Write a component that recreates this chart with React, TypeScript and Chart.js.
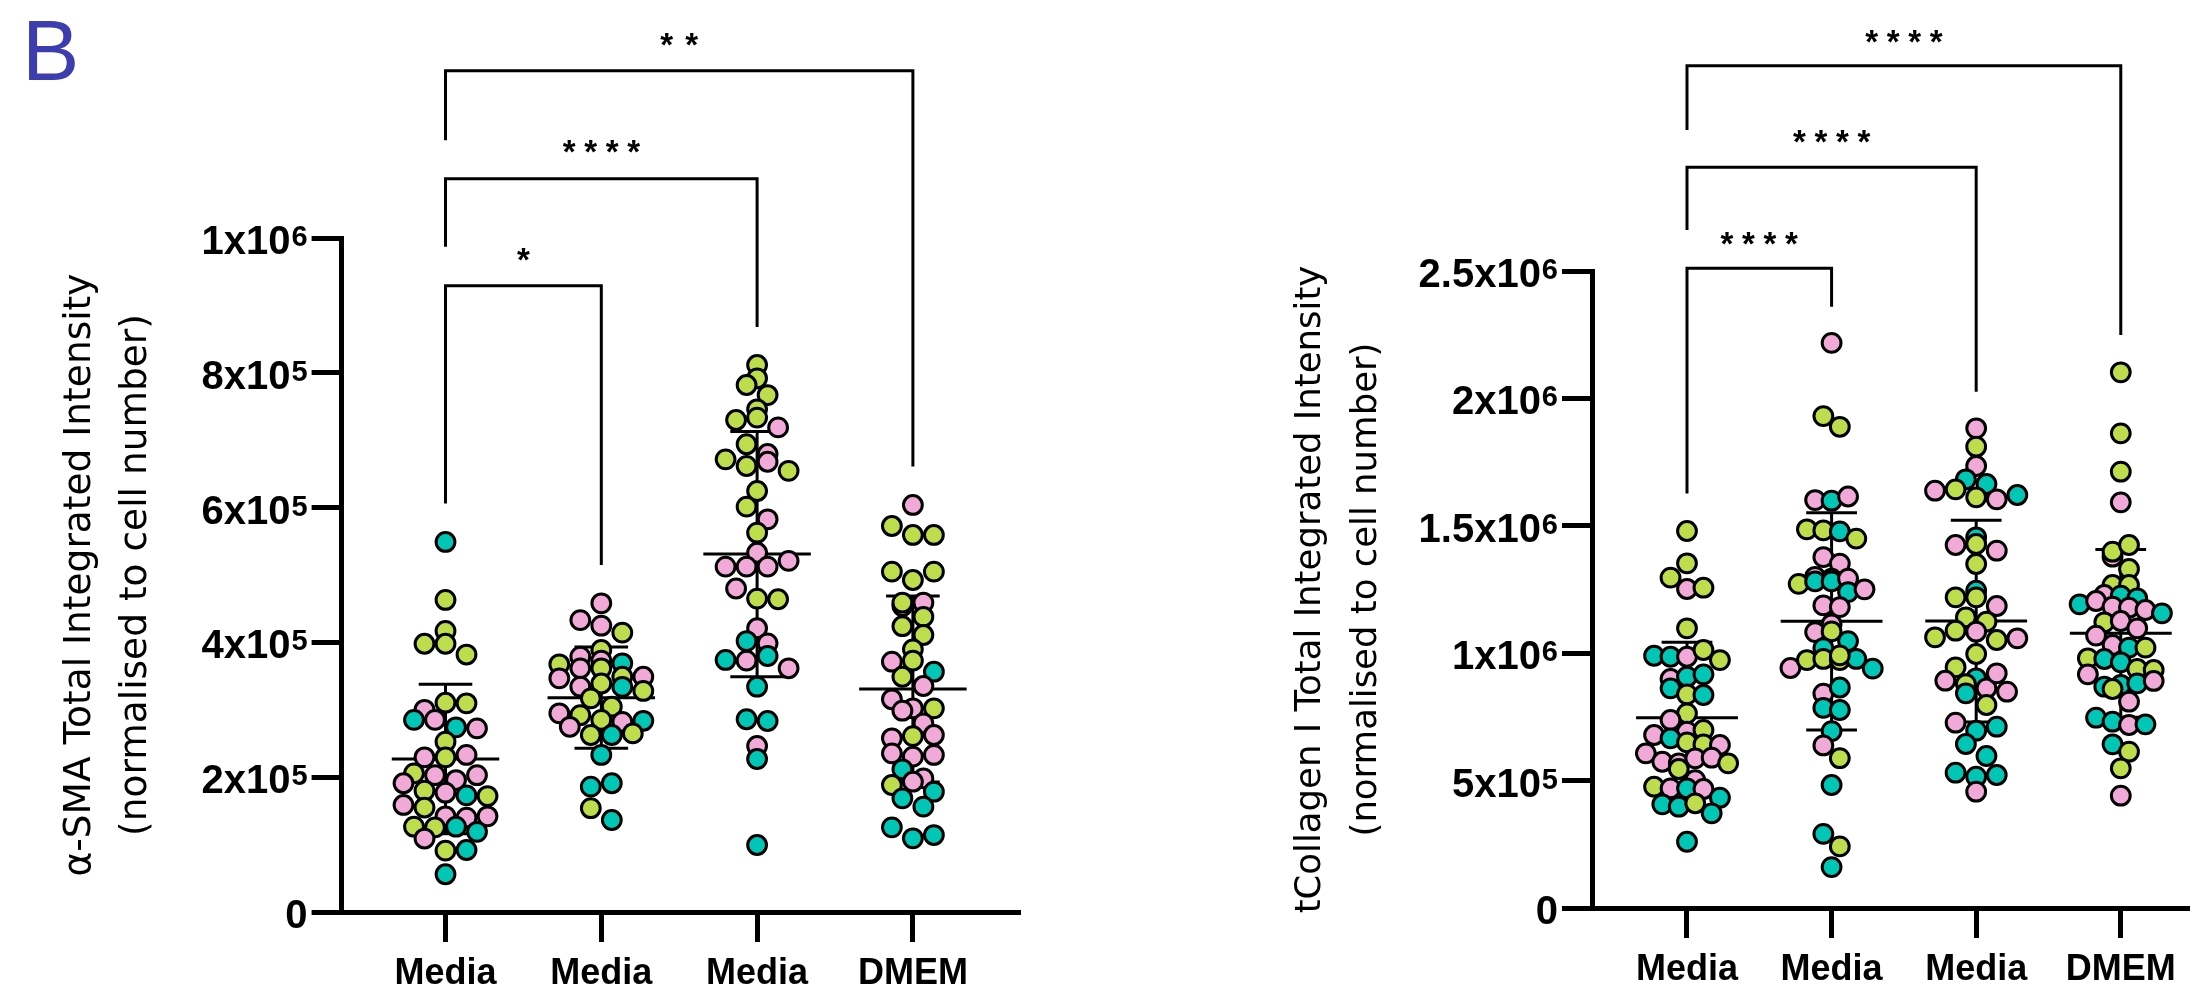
import { useEffect, useRef } from 'react';
import { Chart, registerables } from 'chart.js';

Chart.register(...registerables);

// ---------------- DATA (values in thousands) ----------------
const categories = ['Media', 'Media', 'Media', 'DMEM'];
const repColors: Record<string, string> = { g: '#BEDD4C', p: '#F1A9D8', t: '#00C6B5' };

// α-SMA panel
const smaMedia1 = [549, 463, 417, 398, 398, 382, 300, 310.5, 309.6, 285, 285, 274, 272.5, 252.7, 229.5, 229.5, 233, 205.7, 203, 195.8, 191, 203, 180, 177, 173, 172, 158.8, 155, 142, 140, 142, 126.6, 125.6, 126.6, 119, 109, 91, 92, 56];
const smaMedia1Rep = ['t', 'g', 'g', 'g', 'g', 'g', 'p', 'g', 'g', 't', 'p', 't', 'p', 'g', 'p', 'g', 'p', 'g', 'p', 'p', 'p', 'p', 'g', 'p', 't', 'g', 'p', 'g', 'p', 'p', 'p', 'g', 'g', 't', 't', 'p', 'g', 't', 't'];
const smaMedia2 = [458, 433, 424.8, 414.5, 388.7, 378.8, 372.9, 369, 367.5, 361.6, 361.6, 349, 346.7, 349, 334.3, 339, 334, 328, 317, 304.6, 294.8, 292, 285, 282, 283.7, 274.8, 262.6, 262.6, 265, 233, 186, 191, 154, 136.5];
const smaMedia2Rep = ['p', 'p', 'p', 'g', 'g', 'p', 'p', 't', 'g', 'p', 'g', 'g', 'p', 'p', 'p', 'g', 't', 'g', 'g', 'g', 'p', 'g', 'g', 'p', 't', 'p', 'g', 't', 'g', 't', 't', 't', 'g', 't'];
const smaMedia3 = [811.6, 791.8, 781.9, 767, 745.8, 730, 733.5, 719, 694, 679.5, 671.6, 661.7, 668, 654.6, 624.6, 601.4, 582.6, 562.8, 533, 512.4, 512.4, 512.4, 521, 480, 465, 464, 421, 402, 398.6, 374, 372.9, 379.8, 361.6, 334.3, 286, 283.4, 246.3, 227, 99.4];
const smaMedia3Rep = ['g', 'g', 'g', 'g', 'g', 'g', 'g', 'p', 'g', 'p', 'g', 'g', 'p', 'g', 'g', 'g', 'p', 'g', 'p', 'p', 'p', 'p', 'p', 'p', 'g', 'g', 'p', 't', 'p', 't', 'p', 't', 'p', 't', 't', 't', 'p', 't', 't'];
const smaDMEM = [603.9, 572.7, 559.4, 559.4, 505, 492.6, 505, 454, 459, 459, 438, 424, 411, 389.7, 371.4, 372.9, 356.5, 349, 335.3, 315.6, 302.2, 302.2, 298.7, 279.9, 257.7, 261, 262.6, 235.4, 230.5, 233, 211.7, 198.3, 188.4, 193.3, 178.5, 168.7, 156.3, 125.6, 109.3, 114.2];
const smaDMEMRep = ['p', 'g', 'g', 'g', 'g', 'g', 'g', 'p', 'g', 'p', 'g', 'g', 'g', 'g', 'p', 'g', 't', 'g', 'p', 'p', 'p', 'g', 'p', 'p', 'p', 'g', 'p', 'p', 'p', 'p', 't', 'p', 'g', 'p', 't', 't', 't', 't', 't', 't'];
const smaMean = [227, 318, 531, 331];
const smaSD = [111, 75, 182, 138];
const smaTickBase = ['0', '2x10', '4x10', '6x10', '8x10', '1x10'];
const smaTickExp = ['', '5', '5', '5', '5', '6'];
const smaTitle = ['α-SMA Total Integrated Intensity', '(normalised to cell number)'];
const smaSigFrom = [0, 0, 0];
const smaSigTo = [3, 2, 1];
const smaSigTop = [1248, 1088, 929];
const smaSigLeftEnd = [1145, 987, 606];
const smaSigRightEnd = [661, 868, 515];
const smaSigLabel = ['**', '****', '*'];
const smaSigLabelY = [1294, 1136, 975];

// tCollagen I panel
const colMedia1 = [1479.6, 1352.7, 1296.5, 1252, 1257, 1097.6, 990, 986, 986, 1012.5, 973, 898.7, 907.8, 917, 862, 838.6, 836, 764, 737.8, 692, 679, 698.6, 666, 650, 642, 639.7, 607, 574, 567.8, 587.5, 590, 545.5, 567.8, 502, 476, 469.6, 469.6, 467, 407, 397.6, 411, 433, 371.7, 260];
const colMedia1Rep = ['g', 'g', 'g', 'p', 'g', 'g', 't', 't', 'p', 'g', 'g', 'p', 't', 't', 't', 'g', 't', 'g', 'p', 'p', 'p', 'g', 't', 'g', 'g', 'p', 'p', 'p', 'p', 'p', 'p', 'g', 'g', 'p', 'g', 'p', 't', 'p', 't', 't', 'g', 't', 't', 't'];
const colMedia2 = [2217.8, 1930.5, 1888.6, 1601, 1598.5, 1615, 1486.3, 1482, 1478, 1449.8, 1377, 1351.6, 1299.8, 1292.8, 1272, 1281.8, 1281.8, 1292.8, 1239.8, 1250.8, 1187.6, 1180.9, 1113.4, 1082.8, 1085.6, 1047.5, 1019.6, 942, 973, 977.4, 973, 977.4, 939.5, 991.3, 841.4, 865.4, 785.3, 777, 694.2, 638, 588, 482.7, 290.8, 241.8, 160.5];
const colMedia2Rep = ['p', 'g', 'g', 'p', 't', 'p', 'g', 'g', 't', 'g', 'p', 'p', 'p', 'g', 'g', 't', 't', 'p', 't', 'p', 'p', 'p', 'p', 'p', 'g', 't', 't', 'p', 'g', 'g', 'g', 't', 't', 'g', 'p', 't', 't', 't', 't', 'p', 'g', 't', 't', 'g', 't'];
const colMedia3 = [1882.6, 1810.5, 1734.7, 1682.4, 1664, 1637.8, 1643, 1611.8, 1603.9, 1620.8, 1454.8, 1424.6, 1428.5, 1402.3, 1350, 1245.3, 1219.3, 1219.3, 1185.2, 1140.9, 1123.6, 1062.4, 1088.3, 1084.4, 1051.8, 1058.4, 996.8, 944.6, 901.5, 892, 879, 862.3, 921.1, 849, 842.6, 796.7, 727.3, 695.9, 711.6, 643.6, 596.5, 531, 515.3, 522, 456.4];
const colMedia3Rep = ['p', 'g', 'p', 't', 't', 'p', 'g', 'g', 'p', 't', 't', 'p', 'g', 'p', 'g', 't', 'g', 'g', 'p', 'g', 'g', 'g', 'g', 'p', 'g', 'p', 'g', 'g', 't', 'p', 'g', 'p', 'p', 'p', 't', 'g', 'p', 't', 't', 't', 't', 't', 't', 't', 'p'];
const colDMEM = [2102.4, 1862.9, 1712.3, 1592, 1378.8, 1398.4, 1424.6, 1330.4, 1267.6, 1267.6, 1228.4, 1191.8, 1225.7, 1204.9, 1215.4, 1182.5, 1178.6, 1169.5, 1156.5, 1121.2, 1126.4, 1097.6, 1069, 1032.2, 1021.8, 1021.8, 980, 977.3, 964.2, 938, 934, 917.2, 868.5, 875.2, 881.7, 859.5, 891, 809.7, 746.9, 731.2, 718.2, 720.7, 642.4, 613.4, 548.3, 440.7];
const colDMEMRep = ['g', 'g', 'g', 'p', 'p', 'g', 'g', 'g', 'g', 'g', 'p', 't', 't', 'p', 't', 'p', 'p', 'p', 't', 'g', 'p', 'p', 'p', 'p', 't', 'g', 'g', 't', 't', 'g', 'g', 'p', 't', 't', 't', 'g', 'p', 'p', 't', 't', 'p', 't', 't', 'g', 'g', 'p'];
const colMean = [747, 1125, 1126, 1078];
const colSD = [296, 426, 396, 329];
const colTickBase = ['0', '5x10', '1x10', '1.5x10', '2x10', '2.5x10'];
const colTickExp = ['', '5', '6', '6', '6', '6'];
const colTitle = ['tCollagen I Total Integrated Intensity', '(normalised to cell number)'];
const colSigFrom = [0, 0, 0];
const colSigTo = [3, 2, 1];
const colSigTop = [3306, 2907, 2511];
const colSigLeftEnd = [3053, 2661, 1627];
const colSigRightEnd = [2249, 2026, 2360];
const colSigLabel = ['****', '****', '****'];
const colSigLabelY = [3422, 3027, 2628];

// ---------------- LAYOUT / STYLE ----------------
const W = 2202;
const H = 997;
const BIN_PX = 13;
const SPREAD_PX = 84;
const MAX_STEP_PX = 21;
const POINT_R = 9.4;
const AXIS_W = 5;
const TICK_LEN = 30;
const TICK_FONT = 'Liberation Sans, Arial, sans-serif';
const TITLE_FONT = 'DejaVu Sans, Verdana, sans-serif';

type Panel = {
  groups: number[][];
  reps: string[][];
  mean: number[];
  sd: number[];
  yMax: number;
  yStep: number;
  tickBase: string[];
  tickExp: string[];
  title: string[];
  titleSize: number;
  sigFrom: number[];
  sigTo: number[];
  sigTop: number[];
  sigLeftEnd: number[];
  sigRightEnd: number[];
  sigLabel: string[];
  sigLabelY: number[];
  left: number;
  width: number;
  areaLeft: number;
  areaRight: number;
  areaTop: number;
  areaBottom: number;
  xMin: number;
  xMax: number;
  titleCenter: number;
};

const panels: Panel[] = [
  {
    groups: [smaMedia1, smaMedia2, smaMedia3, smaDMEM],
    reps: [smaMedia1Rep, smaMedia2Rep, smaMedia3Rep, smaDMEMRep],
    mean: smaMean, sd: smaSD, yMax: 1e6, yStep: 2e5,
    tickBase: smaTickBase, tickExp: smaTickExp, title: smaTitle, titleSize: 37.5,
    sigFrom: smaSigFrom, sigTo: smaSigTo, sigTop: smaSigTop, sigLeftEnd: smaSigLeftEnd,
    sigRightEnd: smaSigRightEnd, sigLabel: smaSigLabel, sigLabelY: smaSigLabelY,
    left: 0, width: 1100, areaLeft: 341.6, areaRight: 1020.7, areaTop: 238, areaBottom: 912,
    xMin: -0.667, xMax: 3.692, titleCenter: 80.7,
  },
  {
    groups: [colMedia1, colMedia2, colMedia3, colDMEM],
    reps: [colMedia1Rep, colMedia2Rep, colMedia3Rep, colDMEMRep],
    mean: colMean, sd: colSD, yMax: 2.5e6, yStep: 5e5,
    tickBase: colTickBase, tickExp: colTickExp, title: colTitle, titleSize: 35.5,
    sigFrom: colSigFrom, sigTo: colSigTo, sigTop: colSigTop, sigLeftEnd: colSigLeftEnd,
    sigRightEnd: colSigRightEnd, sigLabel: colSigLabel, sigLabelY: colSigLabelY,
    left: 1100, width: 1102, areaLeft: 492, areaRight: 1102, areaTop: 271, areaBottom: 908,
    xMin: -0.657, xMax: 3.476, titleCenter: 210.8,
  },
];

function swarmOffsets(vals: number[], pxPerUnit: number): number[] {
  const idx = vals.map((_, i) => i).sort((a, b) => vals[a] - vals[b] || a - b);
  const rows: number[][] = [];
  let start = -Infinity;
  for (const i of idx) {
    const y = vals[i] * pxPerUnit;
    if (y - start > BIN_PX) {
      rows.push([i]);
      start = y;
    } else rows[rows.length - 1].push(i);
  }
  const nMax = Math.max(...rows.map((r) => r.length));
  const step = nMax > 1 ? Math.min(MAX_STEP_PX, SPREAD_PX / (nMax - 1)) : MAX_STEP_PX;
  const offs = new Array(vals.length).fill(0);
  for (const r of rows) {
    const ord = [...r].sort((a, b) => a - b);
    ord.forEach((i, k) => {
      offs[i] = (k - (ord.length - 1) / 2) * step;
    });
  }
  return offs;
}

function makeChart(canvas: HTMLCanvasElement, p: Panel): Chart {
  const pxPerUnitY = (p.areaBottom - p.areaTop) / p.yMax;
  const pxPerCat = (p.areaRight - p.areaLeft) / (p.xMax - p.xMin);

  const datasets = p.groups.map((vals, gi) => {
    const real = vals.map((v) => v * 1000);
    const offs = swarmOffsets(real, pxPerUnitY);
    return {
      type: 'scatter' as const,
      label: categories[gi],
      data: real.map((v, i) => ({ x: gi + offs[i] / pxPerCat, y: v })),
      pointBackgroundColor: p.reps[gi].map((r) => repColors[r]),
      pointBorderColor: '#000',
      pointBorderWidth: 3,
      pointRadius: POINT_R,
      pointHoverRadius: POINT_R,
      clip: false as const,
    };
  });

  const errorBars = {
    id: 'errorBars',
    beforeDatasetsDraw(chart: Chart) {
      const { ctx } = chart;
      const xs = chart.scales.x;
      const ys = chart.scales.y;
      ctx.save();
      ctx.strokeStyle = '#000';
      ctx.lineWidth = 3;
      p.mean.forEach((m, gi) => {
        const mv = m * 1000;
        const sv = p.sd[gi] * 1000;
        const cx = xs.getPixelForValue(gi);
        const yM = ys.getPixelForValue(mv);
        const yH = ys.getPixelForValue(mv + sv);
        const yL = ys.getPixelForValue(mv - sv);
        const mw = 0.345 * pxPerCat;
        const cw = 0.172 * pxPerCat;
        ctx.beginPath();
        ctx.moveTo(cx, yH);
        ctx.lineTo(cx, yL);
        ctx.moveTo(cx - mw, yM);
        ctx.lineTo(cx + mw, yM);
        ctx.moveTo(cx - cw, yH);
        ctx.lineTo(cx + cw, yH);
        ctx.moveTo(cx - cw, yL);
        ctx.lineTo(cx + cw, yL);
        ctx.stroke();
      });
      ctx.restore();
    },
  };

  const annotations = {
    id: 'annotations',
    afterDraw(chart: Chart) {
      const { ctx } = chart;
      const xs = chart.scales.x;
      const ys = chart.scales.y;
      ctx.save();
      ctx.strokeStyle = '#000';
      ctx.fillStyle = '#000';

      // y tick labels with superscript exponent
      const baseFont = `bold 40px ${TICK_FONT}`;
      const supFont = `bold 29px ${TICK_FONT}`;
      const right = ys.right - TICK_LEN - 4;
      ctx.textAlign = 'right';
      ctx.textBaseline = 'alphabetic';
      ys.ticks.forEach((t: any) => {
        const idx = Math.round(t.value / p.yStep);
        const base = p.tickBase[idx];
        const exp = p.tickExp[idx];
        if (base === undefined) return;
        const yPix = ys.getPixelForValue(t.value);
        let xr = right;
        if (exp) {
          ctx.font = supFont;
          ctx.fillText(exp, xr, yPix + 8);
          xr -= ctx.measureText(exp).width + 1;
        }
        ctx.font = baseFont;
        ctx.fillText(base, xr, yPix + 16);
      });

      // axis title
      ctx.save();
      const cy = (ys.top + ys.bottom) / 2;
      ctx.font = `${p.titleSize}px ${TITLE_FONT}`;
      ctx.textAlign = 'center';
      ctx.textBaseline = 'middle';
      p.title.forEach((line, i) => {
        ctx.save();
        ctx.translate(p.titleCenter + i * 56, cy);
        ctx.rotate(-Math.PI / 2);
        ctx.fillText(line, 0, 0);
        ctx.restore();
      });
      ctx.restore();

      // significance brackets
      ctx.lineWidth = 3;
      ctx.lineJoin = 'miter';
      const fs = 33;
      ctx.font = `bold ${fs}px ${TICK_FONT}`;
      ctx.textAlign = 'center';
      ctx.textBaseline = 'alphabetic';
      p.sigFrom.forEach((from, i) => {
        const x1 = xs.getPixelForValue(from);
        const x2 = xs.getPixelForValue(p.sigTo[i]);
        const yt = ys.getPixelForValue(p.sigTop[i] * 1000);
        const yl = ys.getPixelForValue(p.sigLeftEnd[i] * 1000);
        const yr = ys.getPixelForValue(p.sigRightEnd[i] * 1000);
        ctx.beginPath();
        ctx.moveTo(x1, yl);
        ctx.lineTo(x1, yt);
        ctx.lineTo(x2, yt);
        ctx.lineTo(x2, yr);
        ctx.stroke();
        const label = p.sigLabel[i];
        const n = label.length;
        const sp = n === 2 ? 25 : 21.5;
        const m = ctx.measureText('*');
        const ly = ys.getPixelForValue(p.sigLabelY[i] * 1000);
        const base = ly + (m.actualBoundingBoxAscent - m.actualBoundingBoxDescent) / 2;
        const cx = (x1 + x2) / 2;
        for (let k = 0; k < n; k++) {
          ctx.fillText(label[k], cx + (k - (n - 1) / 2) * sp, base);
        }
      });
      ctx.restore();
    },
  };

  return new Chart(canvas, {
    type: 'scatter',
    data: { datasets },
    plugins: [errorBars, annotations],
    options: {
      responsive: false,
      animation: false,
      devicePixelRatio: 1,
      events: [],
      layout: { padding: { left: 0, top: p.areaTop, right: p.width - p.areaRight, bottom: 0 } },
      plugins: { legend: { display: false }, tooltip: { enabled: false }, title: { display: false } },
      scales: {
        x: {
          type: 'linear',
          min: p.xMin,
          max: p.xMax,
          afterBuildTicks: (s: any) => {
            s.ticks = categories.map((_, i) => ({ value: i }));
          },
          afterFit: (s: any) => {
            s.height = H - p.areaBottom;
          },
          ticks: {
            autoSkip: false,
            maxRotation: 0,
            padding: 10,
            color: '#000',
            font: { family: TICK_FONT, weight: 'bold', size: 36 },
            callback: (v: any) => categories[Math.round(Number(v))] ?? '',
          },
          grid: {
            drawOnChartArea: false,
            drawTicks: true,
            tickLength: TICK_LEN,
            tickWidth: AXIS_W,
            tickColor: '#000',
            color: '#000',
          },
          border: { display: true, width: AXIS_W, color: '#000' },
        },
        y: {
          type: 'linear',
          min: 0,
          max: p.yMax,
          afterFit: (s: any) => {
            s.width = p.areaLeft;
          },
          ticks: { display: false, stepSize: p.yStep },
          grid: {
            drawOnChartArea: false,
            drawTicks: true,
            tickLength: TICK_LEN,
            tickWidth: AXIS_W,
            tickColor: '#000',
            color: '#000',
          },
          border: { display: true, width: AXIS_W, color: '#000' },
          title: { display: false },
        },
      },
    } as any,
  });
}

export default function App() {
  const leftRef = useRef<HTMLCanvasElement>(null);
  const rightRef = useRef<HTMLCanvasElement>(null);

  useEffect(() => {
    const charts: Chart[] = [];
    if (leftRef.current) charts.push(makeChart(leftRef.current, panels[0]));
    if (rightRef.current) charts.push(makeChart(rightRef.current, panels[1]));
    return () => charts.forEach((c) => c.destroy());
  }, []);

  return (
    <div style={{ position: 'absolute', left: 0, top: 0, width: W, height: H, overflow: 'hidden', background: '#fff' }}>
      <div
        style={{
          position: 'absolute',
          left: 22,
          top: 7,
          fontFamily: 'Liberation Sans, Arial, sans-serif',
          fontSize: 86,
          lineHeight: 1,
          color: '#3D3DB0',
        }}
      >
        B
      </div>
      <canvas
        ref={leftRef}
        width={panels[0].width}
        height={H}
        style={{ position: 'absolute', left: panels[0].left, top: 0, width: panels[0].width, height: H }}
      />
      <canvas
        ref={rightRef}
        width={panels[1].width}
        height={H}
        style={{ position: 'absolute', left: panels[1].left, top: 0, width: panels[1].width, height: H }}
      />
    </div>
  );
}
